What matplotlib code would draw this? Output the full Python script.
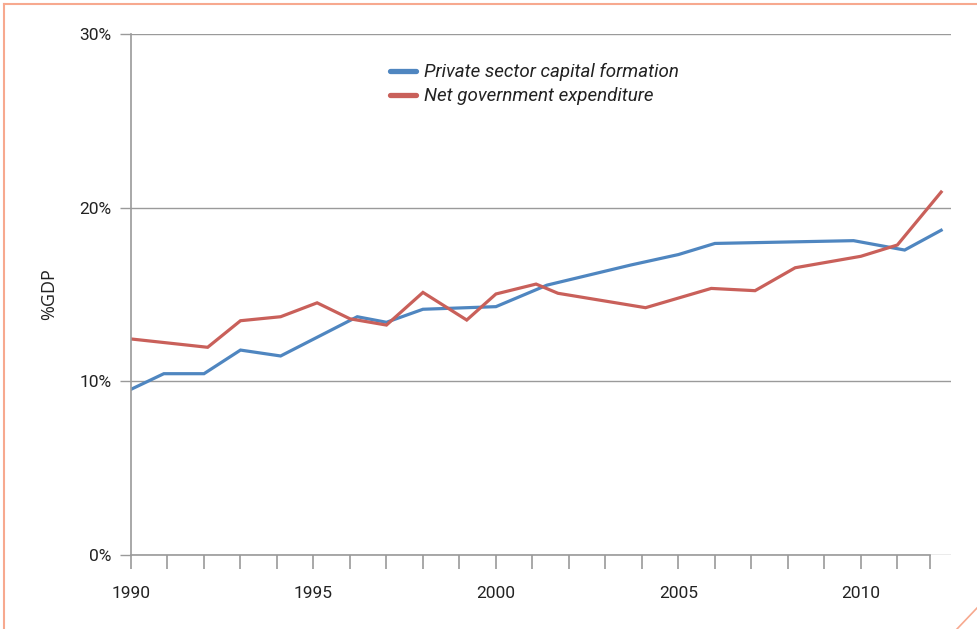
import matplotlib
matplotlib.use('Agg')
import matplotlib.pyplot as plt
from matplotlib.lines import Line2D

plt.rcParams['font.family'] = ['Roboto', 'DejaVu Sans']

# data (years, % of GDP)
private_years = [1990, 1990.9, 1992, 1993, 1994.1, 1996.2, 1997, 1998, 2000, 2001.4,
                 2003.7, 2005, 2006, 2009.8, 2011.2, 2012.2]
private_vals = [9.54, 10.44, 10.44, 11.8, 11.46, 13.72, 13.4, 14.15, 14.3, 15.54,
                16.7, 17.3, 17.94, 18.1, 17.56, 18.7]

gov_years = [1990, 1992.1, 1993, 1994.1, 1995.1, 1996, 1997, 1998, 1999.2, 2000,
             2001.1, 2001.7, 2004.1, 2005.9, 2007.1, 2008.2, 2010, 2011, 2012.2]
gov_vals = [12.44, 11.96, 13.49, 13.72, 14.52, 13.6, 13.24, 15.12, 13.53, 15.03,
            15.6, 15.07, 14.24, 15.35, 15.22, 16.54, 17.2, 17.85, 20.9]

labels = ['Private sector capital formation', 'Net government expenditure']
colors = ['#4F86C0', '#C9605A']
year_ticks = list(range(1990, 2012)) + [2011.9]
year_labels = ['1990', '1995', '2000', '2005', '2010']
y_ticks = [0, 10, 20, 30]
y_labels = ['0%', '10%', '20%', '30%']

fig = plt.figure(figsize=(9.77, 6.29), dpi=100)
ax = fig.add_axes([131 / 977, 1 - 555 / 629, (951 - 131) / 977, (555 - 34) / 629])

ax.plot(private_years, private_vals, color=colors[0], lw=2.3, solid_joinstyle='miter')
ax.plot(gov_years, gov_vals, color=colors[1], lw=2.3, solid_joinstyle='miter')

grid_c = '#9a9a9a'
ax.set_xlim(1990, 2012.47)
ax.set_ylim(0, 30)
ax.set_yticks(y_ticks)
ax.set_yticklabels(y_labels)
ax.set_xticks(year_ticks)
ax.set_xticklabels([str(y) if str(y) in year_labels else '' for y in year_ticks])
ax.yaxis.grid(True, color=grid_c, lw=1)
ax.set_axisbelow(True)

for s in ['top', 'right']:
    ax.spines[s].set_visible(False)
ax.spines['left'].set_color(grid_c)
ax.spines['bottom'].set_color(grid_c)
ax.spines['bottom'].set_bounds(1990, 2011.9)
ax.spines['left'].set_linewidth(1.2)
ax.spines['bottom'].set_linewidth(1.2)
ax.tick_params(axis='y', length=8, color=grid_c, width=1, labelsize=12.5, labelcolor='#222222', pad=6)
ax.tick_params(axis='x', length=10, color=grid_c, width=1.2, labelsize=12.5, labelcolor='#222222', pad=12)
ax.set_ylabel('%GDP', fontsize=13, family=['Open Sans', 'DejaVu Sans'], color='#222222', labelpad=15)

handles = [Line2D([], [], color=c, lw=3.8, solid_capstyle='round') for c in colors]
leg = ax.legend(handles, labels, loc='upper left', bbox_to_anchor=(0.39, 1 - 54 / 629),
                bbox_transform=fig.transFigure, frameon=False, handlelength=1.35,
                handletextpad=0.45, labelspacing=0.3, borderpad=0,
                prop={'style': 'italic', 'size': 13.5})
for t in leg.get_texts():
    t.set_color('#222222')

# orange page frame
frame_c = '#F7A98F'
fig.add_artist(Line2D([3.5 / 977, 3.5 / 977], [0, 1 - 3.5 / 629], color=frame_c, lw=1.5))
fig.add_artist(Line2D([3.5 / 977, 1], [1 - 3.5 / 629, 1 - 3.5 / 629], color=frame_c, lw=1.5))
fig.add_artist(Line2D([957 / 977, 1], [0, 21 / 629], color=frame_c, lw=1.2))

fig.savefig('out.png', dpi=100)
